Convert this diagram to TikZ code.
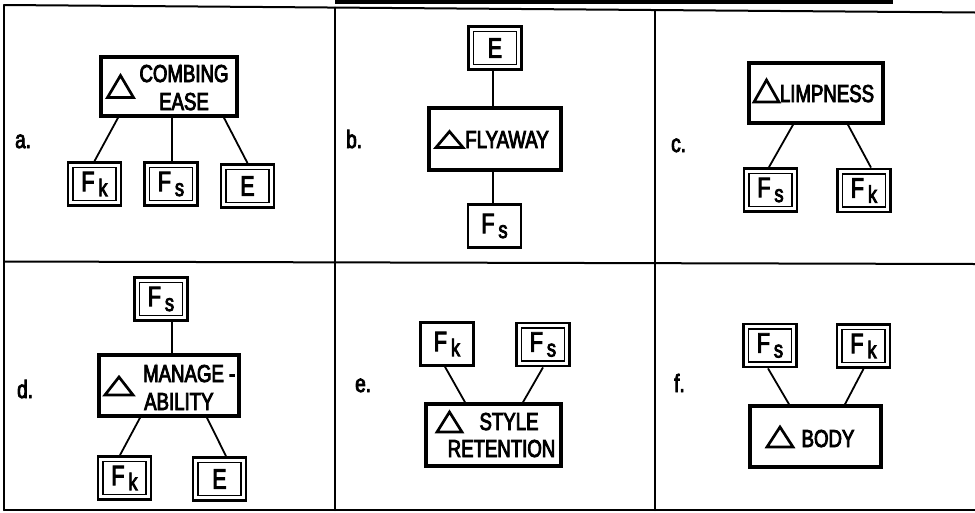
\documentclass[tikz,border=0pt]{standalone}
\usepackage{fontspec}
\setmainfont{Liberation Sans}[FakeStretch=0.76, FakeBold=3.5]
\usetikzlibrary{calc}

% type sizes for box texts, leaf symbols and panel letters
\newcommand\wordfont{\fontsize{24.5}{27}\selectfont}
\newcommand\leaffont{\fontsize{28}{28}\selectfont}
\newcommand\tagfont{\fontsize{25}{25}\selectfont}
% F with a lowered lower-case index
\newcommand\Fsub[1]{F\hspace{4pt}\raisebox{-5pt}{\fontsize{24}{24}\selectfont #1}}

\begin{document}
\begin{tikzpicture}[x=1pt,y=-1pt,
  frame/.style={line width=2pt, line cap=round},
  mainbox/.style={draw, line width=3.6pt, minimum width=134pt, minimum height=60pt, inner sep=0pt},
  leaf/.style={draw, line width=2.6pt, minimum width=53pt, minimum height=43pt, inner sep=0pt, font=\leaffont},
  dleaf/.style={leaf, line width=2.8pt,
    path picture={\draw[line width=1.5pt]
      ([shift={(5pt,-5pt)}]path picture bounding box.north west) rectangle
      ([shift={(-5pt,5pt)}]path picture bounding box.south east);}},
  wire/.style={line width=1.8pt},
  word/.style={font=\wordfont, inner sep=0pt, anchor=base},
  tag/.style={font=\tagfont, inner sep=0pt, anchor=base west},
  delta/.pic={\draw[line width=2.7pt, line join=miter] (-13,10) -- (13,10) -- (0,-10) -- cycle;}
]
\useasboundingbox (0,0) rectangle (975,512);

% table frame
\fill (335,0) rectangle (893,3.5);
\draw[frame] (4,5) -- (975,12.5);
\draw[frame] (4,261.5) -- (975,264);
\draw[frame] (4,510) -- (975,510);
\draw[frame] (4,5) -- (4,510);
\draw[frame] (335,7.6) -- (335,510);
\draw[frame] (655,10) -- (655,510);

% a. combing ease
\node[mainbox, minimum width=136pt, minimum height=59pt] (aM) at (169,86.5) {};
\pic[yscale=1.1] at (120.5,86.5) {delta};
\node[word] (aW1) at (184,82) {COMBING};
\node[word] (aW2) at (184,110) {EASE};
\node[dleaf] (aK) at (94.5,184) {\Fsub{k}};
\node[dleaf] (aS) at (171,184) {\Fsub{s}};
\node[dleaf] (aE) at (247.5,186) {E};
\draw[wire] ([xshift=-51pt]aM.south) -- (aK.north);
\draw[wire] ([xshift=3pt]aM.south) -- ([xshift=1pt]aS.north);
\draw[wire] ([xshift=55pt]aM.south) -- (aE.north);
\node[tag] (aL) at (15,148) {a.};

% b. flyaway
\node[mainbox, minimum width=132pt, minimum height=62pt] (bM) at (495,139) {};
\pic[xscale=1.04, yscale=0.8] at (449.5,139.5) {delta};
\node[word] (bW) at (507,148) {FLYAWAY};
\node[dleaf] (bE) at (495,48) {E};
\node[leaf] (bS) at (494.5,226) {\Fsub{s}};
\draw[wire] ([xshift=-2pt]bE.south) -- ([xshift=-2pt]bM.north);
\draw[wire] ([xshift=-2pt]bM.south) -- ([xshift=-1.5pt]bS.north);
\node[tag] (bL) at (346,148) {b.};

% c. limpness
\node[mainbox] (cM) at (816,93) {};
\pic[xscale=0.96, yscale=1.1] at (766.5,91) {delta};
\node[word] (cW) at (827,102) {LIMPNESS};
\node[dleaf] (cS) at (770.5,190) {\Fsub{s}};
\node[dleaf] (cK) at (864,190.5) {\Fsub{k}};
\draw[wire] ([xshift=-23pt]cM.south) -- ([xshift=-1.5pt]cS.north);
\draw[wire] ([xshift=32pt]cM.south) -- ([xshift=7pt]cK.north);
\node[tag] (cL) at (671,152) {c.};

% d. manageability
\node[mainbox, minimum width=140pt, minimum height=61pt] (dM) at (169,385.5) {};
\pic[xscale=1.08, yscale=0.9] at (119,386) {delta};
\node[word, anchor=base west] (dW1) at (143,382) {MANAGE -};
\node[word, anchor=base west] (dW2) at (144,410) {ABILITY};
\node[dleaf] (dS) at (161,299) {\Fsub{s}};
\node[dleaf] (dK) at (124.5,478) {\Fsub{k}};
\node[dleaf] (dE) at (219.5,479) {E};
\draw[wire] ([xshift=11pt]dS.south) -- ([xshift=3pt]dM.north);
\draw[wire] ([xshift=-29pt]dM.south) -- ([xshift=-4.5pt]dK.north);
\draw[wire] ([xshift=38pt]dM.south) -- ([xshift=6.5pt]dE.north);
\node[tag] (dL) at (17,398) {d.};

% e. style retention
\node[mainbox, minimum width=135pt, minimum height=62pt] (eM) at (493.5,435) {};
\pic[xscale=0.96] at (449.5,422) {delta};
\node[word] (eW1) at (509,430) {STYLE};
\node[word] (eW2) at (501.5,457) {RETENTION};
\node[leaf] (eK) at (447,344) {\Fsub{k}};
\node[dleaf] (eS) at (543,344.5) {\Fsub{s}};
\draw[wire] ([xshift=-2pt]eK.south) -- ([xshift=-28.5pt]eM.north);
\draw[wire] (eS.south) -- ([xshift=29.5pt]eM.north);
\node[tag] (eL) at (355,392) {e.};

% f. body
\node[mainbox, minimum width=131pt, minimum height=61pt] (fM) at (815.5,436.5) {};
\pic at (780,437) {delta};
\node[word] (fW) at (828,447) {BODY};
\node[dleaf] (fS) at (770,345.5) {\Fsub{s}};
\node[dleaf] (fK) at (863.5,346) {\Fsub{k}};
\draw[wire] ([xshift=-2pt]fS.south) -- ([xshift=-26.5pt]fM.north);
\draw[wire] (fK.south) -- ([xshift=29.5pt]fM.north);
\node[tag] (fL) at (674,392) {f.};
\end{tikzpicture}
\end{document}
